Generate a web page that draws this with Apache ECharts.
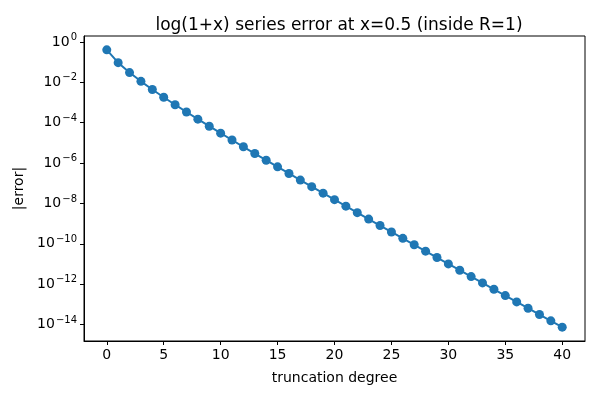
<!DOCTYPE html>
<html>
<head>
<meta charset="utf-8">
<script src="https://cdn.jsdelivr.net/npm/echarts@6/dist/echarts.min.js"></script>
<style>
  html, body { margin: 0; padding: 0; background: #fff; }
  #chart { width: 600px; height: 400px; }
</style>
</head>
<body>
<div id="chart"></div>
<script>
// truncation degree n and |log(1.5) - S_n|
const degrees = [0, 1, 2, 3, 4, 5, 6, 7, 8, 9, 10, 11, 12, 13, 14, 15, 16, 17, 18, 19, 20,
  21, 22, 23, 24, 25, 26, 27, 28, 29, 30, 31, 32, 33, 34, 35, 36, 37, 38, 39, 40];
const errors = [
  4.055e-1, 9.453e-2, 3.047e-2, 1.120e-2, 4.423e-3, 1.827e-3, 7.78e-4, 3.39e-4, 1.500e-4,
  6.707e-5, 3.042e-5, 1.391e-5, 6.409e-6, 2.971e-6, 1.385e-6, 6.483e-7, 3.047e-7, 1.438e-7,
  6.804e-8, 3.229e-8, 1.537e-8, 7.330e-9, 3.503e-9, 1.678e-9, 8.049e-10, 3.868e-10,
  1.862e-10, 8.972e-11, 4.330e-11, 2.092e-11, 1.012e-11, 4.900e-12, 2.375e-12, 1.152e-12,
  5.595e-13, 2.719e-13, 1.323e-13, 6.437e-14, 3.135e-14, 1.528e-14, 7.45e-15
];
const xTicks = [0, 5, 10, 15, 20, 25, 30, 35, 40];
const yTicks = [1e-14, 1e-12, 1e-10, 1e-8, 1e-6, 1e-4, 1e-2, 1];

const FONT = 'DejaVu Sans';
const chart = echarts.init(document.getElementById('chart'));

function expLabel(v) {
  const e = v <= 0 ? Math.round(v) : Math.round(Math.log10(v));
  return '10{sup|' + (e < 0 ? '\u2212' + (-e) : e) + '}';
}

chart.setOption({
  animation: false,
  title: {
    text: 'log(1+x) series error at x=0.5 (inside R=1)',
    left: 334, top: 12, textAlign: 'center',
    textStyle: { fontFamily: FONT, fontSize: 17, fontWeight: 'normal', color: '#000' }
  },
  grid: { left: 84, right: 15, top: 36, bottom: 59, outerBoundsMode: 'none' },
  xAxis: {
    type: 'value', min: -2, max: 42,
    name: 'truncation degree', nameLocation: 'middle', nameGap: 30,
    nameTextStyle: { fontFamily: FONT, fontSize: 14, color: '#000' },
    axisLine: { onZero: false, lineStyle: { color: '#000', width: 1 } },
    axisTick: { inside: false, customValues: xTicks, length: 4, lineStyle: { color: '#000' } },
    axisLabel: { customValues: xTicks, fontFamily: FONT, fontSize: 14, color: '#000', margin: 7 },
    splitLine: { show: false }
  },
  yAxis: {
    type: 'log', logBase: 10,
    min: Math.pow(10, -14.815), max: Math.pow(10, 0.295),
    name: '|error|', nameLocation: 'middle', nameGap: 54, nameRotate: 90,
    nameTextStyle: { fontFamily: FONT, fontSize: 14, color: '#000' },
    axisLine: { show: true, onZero: false, lineStyle: { color: '#000', width: 1 } },
    axisTick: { show: true, inside: false, customValues: yTicks, length: 4, lineStyle: { color: '#000' } },
    axisLabel: {
      customValues: yTicks, margin: 7,
      formatter: expLabel,
      fontFamily: FONT, fontSize: 14, color: '#000',
      rich: { sup: { fontFamily: FONT, fontSize: 10, color: '#000', verticalAlign: 'top', padding: [0, 0, 9, 1] } }
    },
    splitLine: { show: false }
  },
  series: [{
    type: 'line',
    data: degrees.map((d, i) => [d, errors[i]]),
    symbol: 'circle', symbolSize: 9,
    itemStyle: { color: '#1f77b4' },
    lineStyle: { color: '#1f77b4', width: 2 }
  }]
});
// right and top spines
chart.setOption({
  graphic: [{
    type: 'rect', shape: { x: 84, y: 36, width: 501, height: 305 },
    style: { fill: 'none', stroke: '#000', lineWidth: 1 }, silent: true
  }]
});
</script>
</body>
</html>
